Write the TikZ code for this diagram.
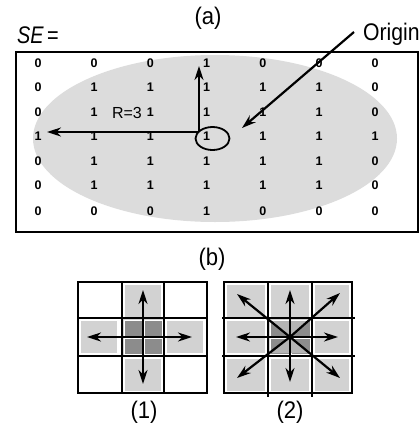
\documentclass[tikz,border=0pt]{standalone}
\usepackage{fontspec}
\setmainfont{Liberation Sans}
\usetikzlibrary{arrows.meta}
\definecolor{ellgray}{HTML}{DCDCDC}
\definecolor{cellgray}{HTML}{D2D2D2}
\definecolor{darkcell}{HTML}{8C8C8C}
\definecolor{midcell}{HTML}{B4B4B4}
\tikzset{
  digit/.style={font=\fontsize{12.5}{12.5}\selectfont\bfseries, inner sep=0pt},
  lbl/.style={font=\fontsize{24}{24}\selectfont, inner sep=0pt, xscale=0.92},
  arr/.style={line width=2.2pt, -{Stealth[length=14pt,width=9pt]}},
  gridline/.style={line width=2.4pt},
  graycell/.style={fill=cellgray, draw=white, line width=1pt},
  darksq/.style={fill=darkcell, draw=white, line width=0.8pt},
}
\begin{document}
\begin{tikzpicture}[x=1pt,y=-1pt]
\useasboundingbox (0,0) rectangle (419,424);
% ---------- (a) ----------
\node[lbl] (la) at (208,18) {(a)};
\node[lbl, anchor=base west, xscale=0.9] (se) at (17,43) {\textit{SE}\,=};
\node[lbl, anchor=base west, xscale=0.96] (orig) at (363,40) {Origin};
\fill[ellgray] (215,138.5) ellipse [x radius=182, y radius=83.5];
\draw[line width=1.8pt] (16,52) rectangle (418,232);
% matrix of digits
\foreach \r/\y/\vals in {1/63/{0,0,0,1,0,0,0},2/87.5/{0,1,1,1,1,1,0},3/112/{0,1,1,1,1,1,0},4/136.5/{1,1,1,1,1,1,1},5/161/{0,1,1,1,1,1,0},6/185.5/{0,1,1,1,1,1,0},7/211/{0,0,0,1,0,0,0}}{
  \foreach \v [count=\c] in \vals {
    \pgfmathsetmacro{\xx}{38+56.2*(\c-1)}
    \node[digit] (d-\r-\c) at (\xx,\y) {\v};
  }
}
\node[font=\fontsize{16}{16}\selectfont, inner sep=0pt] (R) at (127,113) {R=3};
% origin marker
\draw[line width=1.8pt] (212.5,138.5) ellipse [x radius=17, y radius=11.5];
\coordinate (corner) at (199,132);
\coordinate (uptip) at (199,66);
\coordinate (lefttip) at (47,132);
\draw[arr] (corner) -- (uptip);
\draw[arr] (corner) -- (lefttip);
\coordinate (ostart) at (354,32);
\coordinate (otip) at (242,128);
\draw[arr] (ostart) -- (otip);
% ---------- (b) ----------
\node[lbl] (lb) at (212,259) {(b)};
% grid 1
\foreach \x/\y in {122/282,78/318,164/318,122/356}{
  \draw[graycell] (\x+2.5,\y+2.5) rectangle (\x+42-2.5,\y+37.5-2.5);
}
\fill[cellgray] (123,319) rectangle (163,355);
\foreach \x/\y in {124/320,144/320,124/338,144/338}{
  \draw[darksq] (\x,\y) rectangle (\x+18,\y+16);
}
\draw[gridline] (78,282) rectangle (207,393);
\draw[gridline] (122,282) -- (122,393) (164,282) -- (164,393)
                (78,318) -- (207,318) (78,356) -- (207,356);
\coordinate (c1) at (143,337);
\coordinate (c1u) at (143,290);
\coordinate (c1d) at (143,384);
\coordinate (c1l) at (87,337);
\coordinate (c1r) at (192,337);
\foreach \t in {c1u,c1d,c1l,c1r} \draw[arr] (c1) -- (\t);
\node[lbl] (l1) at (144,412) {(1)};
% grid 2
\foreach \x/\xw in {224/44,268/44,312/40}{
  \foreach \y in {282,318,356}{
    \draw[graycell] (\x+2.5,\y+2.5) rectangle (\x+\xw-2.5,\y+37.5-2.5);
  }
}
\fill[cellgray] (269,319) rectangle (311,355);
\foreach \x/\y in {270/320,291/320,270/338,291/338}{
  \draw[darksq] (\x,\y) rectangle (\x+19,\y+16);
}
\fill[midcell] (272,321) -- (308,321) -- (290,337) -- cycle;
\fill[midcell] (272,353) -- (308,353) -- (290,337) -- cycle;
\draw[gridline] (224,282) rectangle (352,393);
\draw[gridline] (268,282) -- (268,397) (312,282) -- (312,397)
                (222,318) -- (355,318) (222,356) -- (355,356);
\coordinate (c2) at (290,337);
\coordinate (c2u) at (290,290);
\coordinate (c2d) at (290,382);
\coordinate (c2l) at (236,337);
\coordinate (c2r) at (338,337);
\coordinate (c2ul) at (237,294);
\coordinate (c2ur) at (340,293);
\coordinate (c2dl) at (237,378);
\coordinate (c2dr) at (340,378);
\foreach \t in {c2u,c2d,c2l,c2r,c2ul,c2ur,c2dl,c2dr} \draw[arr] (c2) -- (\t);
\node[lbl] (l2) at (290,412) {(2)};
\end{tikzpicture}
\end{document}
